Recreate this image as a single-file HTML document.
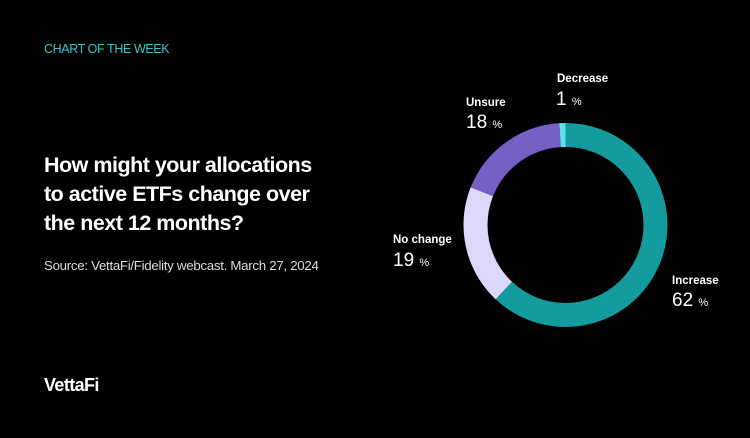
<!DOCTYPE html>
<html><head><style>
body{margin:0;background:#000;width:750px;height:438px;overflow:hidden;position:relative;font-family:"Liberation Sans",sans-serif;color:#fff}
.a{position:absolute;white-space:nowrap}
.t{font-weight:bold;font-size:21.5px;letter-spacing:-0.5px;line-height:29px}
.l{font-size:11.5px;font-weight:bold}
.v{font-size:19px}
.v small{font-size:11px}
</style></head><body>
<div class="a" style="left:44px;top:42px;font-size:12.5px;color:#3fc1c9;letter-spacing:-0.4px">CHART OF THE WEEK</div>
<div class="a t" style="left:44px;top:151px">How might your allocations<br>to active ETFs change over<br>the next 12 months?</div>
<div class="a" style="left:44px;top:258px;font-size:13.3px;color:#ddd;letter-spacing:-0.3px">Source: VettaFi/Fidelity webcast. March 27, 2024</div>
<div class="a" style="left:44px;top:375px;font-size:18px;font-weight:bold;letter-spacing:-0.6px">VettaFi</div>
<svg class="a" style="left:0;top:0" width="750" height="438">
<g transform="rotate(-90 565.5 225)" fill="none" stroke-width="24">
<circle cx="565.5" cy="225" r="90" stroke="#149b9e" stroke-dasharray="350.6 565.5"/>
<circle cx="565.5" cy="225" r="90" stroke="#dcd8fb" stroke-dasharray="0 350.6 107.4 565.5"/>
<circle cx="565.5" cy="225" r="90" stroke="#7660c6" stroke-dasharray="0 458 101.8 565.5"/>
<circle cx="565.5" cy="225" r="90" stroke="#5de0e6" stroke-dasharray="0 559.8 5.7 565.5"/>
</g></svg>
<div class="a l" style="left:557px;top:73px">Decrease</div>
<div class="a v" style="left:556px;top:89px">1 <small>%</small></div>
<div class="a l" style="left:466px;top:97px">Unsure</div>
<div class="a v" style="left:466px;top:112px">18 <small>%</small></div>
<div class="a l" style="left:393px;top:234px">No change</div>
<div class="a v" style="left:393px;top:250px">19 <small>%</small></div>
<div class="a l" style="left:672px;top:275px">Increase</div>
<div class="a v" style="left:672px;top:290px">62 <small>%</small></div>
</body></html>
